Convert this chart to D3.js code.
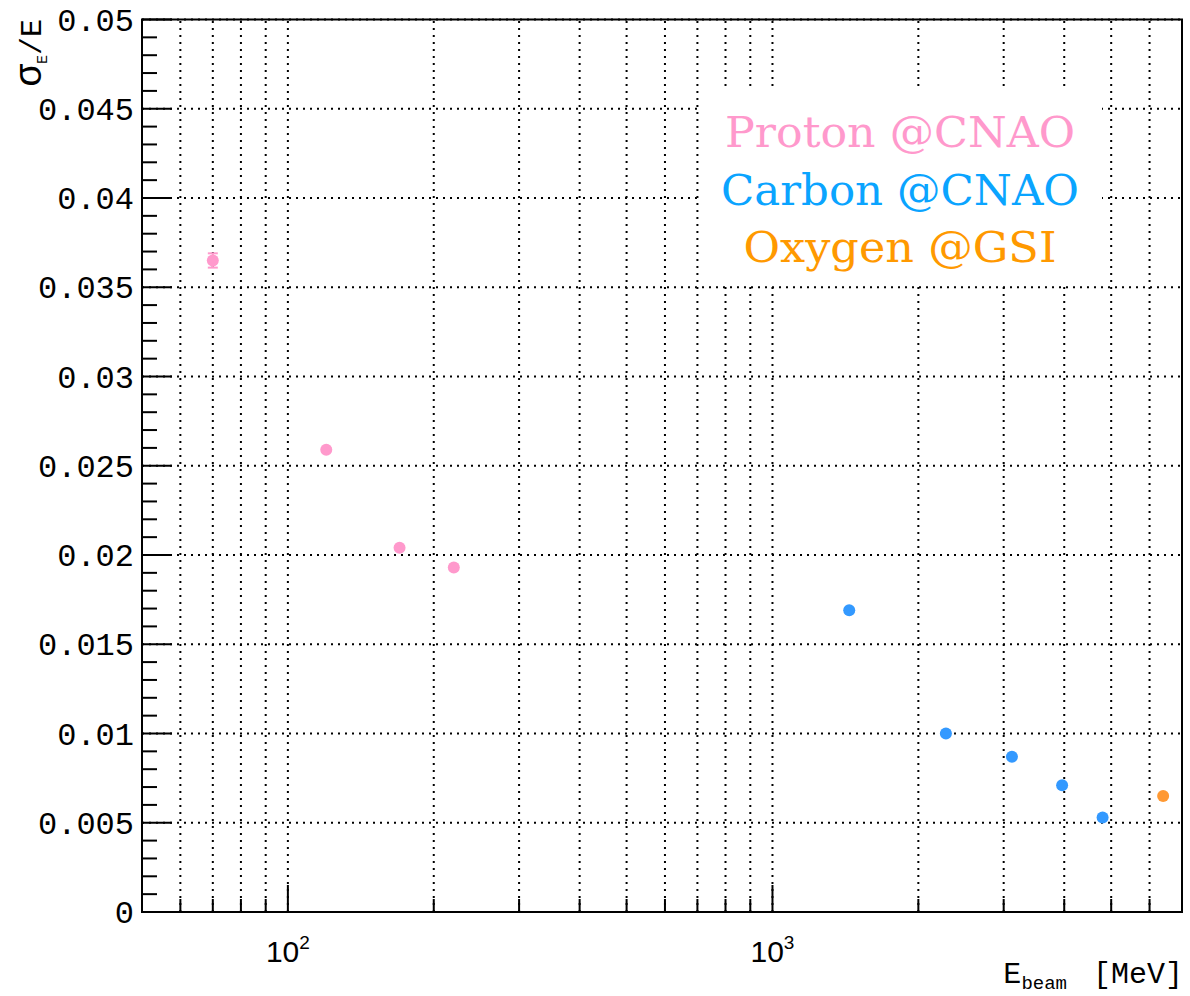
<!DOCTYPE html>
<html>
<head>
<meta charset="utf-8">
<script src="https://cdn.jsdelivr.net/npm/d3@7"></script>
<style>
  html, body { margin: 0; padding: 0; background: #fff; }
  svg { display: block; }
</style>
</head>
<body>
<svg id="chart" width="1190" height="996"></svg>
<script>
// ---- data ----
const protonE   = [70, 120, 170, 220];
const protonRes = [0.0365, 0.0259, 0.0204, 0.0193];
const protonErr = [0.0004, 0.0001, 0.0001, 0.0001];
const carbonE   = [1440, 2280, 3120, 3960, 4800];
const carbonRes = [0.0169, 0.0100, 0.0087, 0.0071, 0.0053];
const carbonErr = [0.0001, 0.0001, 0.0001, 0.0001, 0.0001];
const oxygenE   = [6400];
const oxygenRes = [0.0065];
const oxygenErr = [0.0001];
const yTicks = [0, 0.005, 0.01, 0.015, 0.02, 0.025, 0.03, 0.035, 0.04, 0.045, 0.05];
const yTickLabels = ["0", "0.005", "0.01", "0.015", "0.02", "0.025", "0.03", "0.035", "0.04", "0.045", "0.05"];
const xMajor = [100, 1000];
const xMajorLabels = [["10", "2"], ["10", "3"]];
const xMinor = [60, 70, 80, 90, 200, 300, 400, 500, 600, 700, 800, 900, 2000, 3000, 4000, 5000, 6000, 7000];
const legendLabels = ["Proton @CNAO", "Carbon @CNAO", "Oxygen @GSI"];
const legendColors = ["#ff99cc", "#0aa4ff", "#ff9900"];

// ---- layout ----
const L = 142, R = 1182, T = 19.5, B = 912;
const svg = d3.select("#chart");
const x = d3.scaleLog().domain([50, 7000]).range([L, R]);
const y = d3.scaleLinear().domain([0, 0.05]).range([B, T]);

// grid
const grid = svg.append("g").attr("stroke", "#000").attr("stroke-width", 2)
  .attr("stroke-dasharray", "2,5");
grid.selectAll("line.gx").data(xMinor.concat(xMajor)).join("line")
  .attr("x1", d => x(d)).attr("x2", d => x(d)).attr("y1", B).attr("y2", T);
grid.selectAll("line.gy").data(yTicks.slice(1)).join("line")
  .attr("x1", L).attr("x2", R).attr("y1", d => y(d)).attr("y2", d => y(d));

// legend box (covers the grid)
svg.append("rect").attr("x", 699).attr("y", 89).attr("width", 403).attr("height", 197)
  .attr("fill", "#fff");
const legW = [350, 358, 313];
svg.append("g").selectAll("text").data(legendLabels).join("text")
  .attr("x", 900).attr("y", (d, i) => 147 + i * 57.5)
  .attr("text-anchor", "middle")
  .attr("font-family", "DejaVu Serif, serif")
  .attr("font-size", 43)
  .attr("textLength", (d, i) => legW[i]).attr("lengthAdjust", "spacingAndGlyphs")
  .attr("fill", (d, i) => legendColors[i])
  .text(d => d);

// data series
function series(E, V, Err, color) {
  const g = svg.append("g");
  const pts = E.map((e, i) => ({ e, v: V[i], err: Err[i] }));
  g.selectAll("line.eb").data(pts).join("line")
    .attr("x1", d => x(d.e)).attr("x2", d => x(d.e))
    .attr("y1", d => y(d.v - d.err)).attr("y2", d => y(d.v + d.err))
    .attr("stroke", color).attr("stroke-width", 2);
  g.selectAll("line.c1").data(pts).join("line")
    .attr("x1", d => x(d.e) - 5).attr("x2", d => x(d.e) + 5)
    .attr("y1", d => y(d.v + d.err)).attr("y2", d => y(d.v + d.err))
    .attr("stroke", color).attr("stroke-width", 2);
  g.selectAll("line.c2").data(pts).join("line")
    .attr("x1", d => x(d.e) - 5).attr("x2", d => x(d.e) + 5)
    .attr("y1", d => y(d.v - d.err)).attr("y2", d => y(d.v - d.err))
    .attr("stroke", color).attr("stroke-width", 2);
  g.selectAll("circle").data(pts).join("circle")
    .attr("cx", d => x(d.e)).attr("cy", d => y(d.v)).attr("r", 6)
    .attr("fill", color);
}
series(protonE, protonRes, protonErr, "#ff99cc");
series(carbonE, carbonRes, carbonErr, "#3399ff");
series(oxygenE, oxygenRes, oxygenErr, "#ff9933");

// frame
svg.append("rect").attr("x", L).attr("y", T).attr("width", R - L).attr("height", B - T)
  .attr("fill", "none").attr("stroke", "#000").attr("stroke-width", 2);

// y ticks
const yMinor = d3.range(0, 51).map(i => i * 0.001).filter(v => Math.round(v * 1000) % 5 !== 0);
svg.append("g").attr("stroke", "#000").attr("stroke-width", 2)
  .selectAll("line").data(yMinor).join("line")
  .attr("x1", L).attr("x2", L + 15).attr("y1", d => y(d)).attr("y2", d => y(d));
svg.append("g").attr("stroke", "#000").attr("stroke-width", 2)
  .selectAll("line").data(yTicks).join("line")
  .attr("x1", L).attr("x2", L + 30).attr("y1", d => y(d)).attr("y2", d => y(d));
svg.append("g").selectAll("text").data(yTicks).join("text")
  .attr("x", 134).attr("y", d => y(d)).attr("dy", "0.35em")
  .attr("text-anchor", "end")
  .attr("font-family", "Liberation Mono, monospace").attr("font-size", 32)
  .attr("fill", "#000")
  .text((d, i) => yTickLabels[i]);

// x ticks
svg.append("g").attr("stroke", "#000").attr("stroke-width", 2)
  .selectAll("line").data(xMinor).join("line")
  .attr("x1", d => x(d)).attr("x2", d => x(d)).attr("y1", B).attr("y2", B - 13);
svg.append("g").attr("stroke", "#000").attr("stroke-width", 2)
  .selectAll("line").data(xMajor).join("line")
  .attr("x1", d => x(d)).attr("x2", d => x(d)).attr("y1", B).attr("y2", B - 27);
const xl = svg.append("g").selectAll("text").data(xMajor).join("text")
  .attr("x", d => x(d)).attr("y", 962)
  .attr("text-anchor", "middle")
  .attr("font-family", "Liberation Sans, Arial, sans-serif").attr("font-size", 30)
  .attr("fill", "#000");
xl.append("tspan").text((d, i) => xMajorLabels[i][0]);
xl.append("tspan").attr("dy", -13).attr("font-size", 19).text((d, i) => xMajorLabels[i][1]);

// x title
const xt = svg.append("text").attr("x", 1183).attr("y", 983)
  .attr("text-anchor", "end")
  .attr("font-family", "Courier New, Liberation Mono, monospace").attr("font-size", 30)
  .attr("fill", "#000");
xt.append("tspan").text("E");
xt.append("tspan").attr("dy", 6).attr("font-size", 19).text("beam");
xt.append("tspan").attr("dy", -6).attr("dx", 26).text("[MeV]");

// y title
const yt = svg.append("text")
  .attr("transform", "translate(41,19) rotate(-90)")
  .attr("text-anchor", "end")
  .attr("font-family", "Courier New, Liberation Mono, monospace").attr("font-size", 30)
  .attr("fill", "#000");
yt.append("tspan").attr("font-size", 38).text("σ");
yt.append("tspan").attr("dy", 6).attr("font-size", 15).text("E");
yt.append("tspan").attr("dy", -6).text("/E");
</script>
</body>
</html>
